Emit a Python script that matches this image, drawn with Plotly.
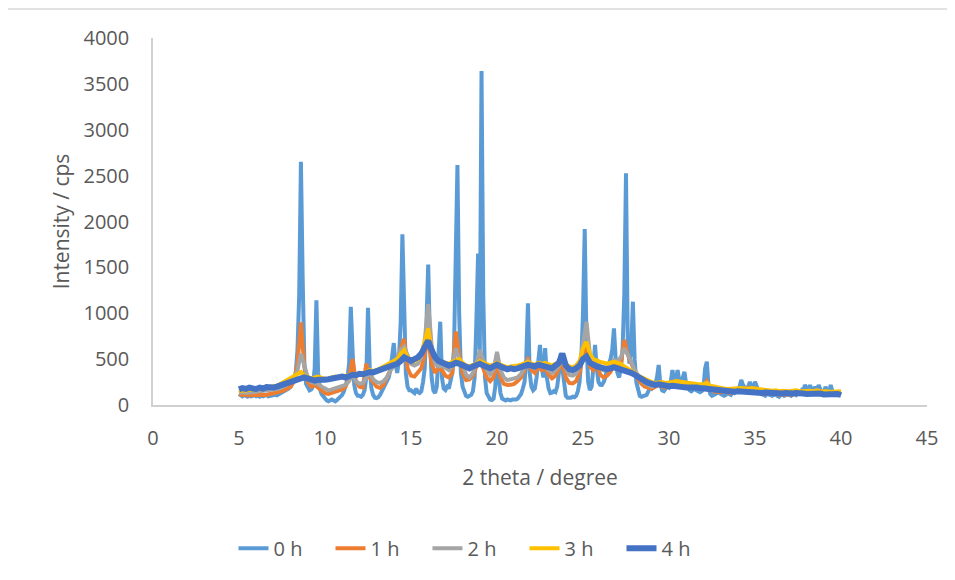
import numpy as np
import plotly.graph_objects as go

# ---- data ----
# 0 h sampled every 0.1 degree from 5.0 to 40.0
theta_fine = np.round(np.arange(5.0, 40.0001, 0.1), 1)
i_0h = [
    120,105,95,110,100,90,105,95,100,110,      # 5
    95,100,90,105,95,100,110,95,100,105,       # 6
    100,110,105,115,120,130,140,150,165,180,   # 7
    200,230,270,350,600,1200,2650,1400,450,230,# 8
    180,160,170,200,400,1140,350,180,120,90,   # 9
    70,50,40,45,60,50,40,55,70,90,             # 10
    110,150,200,280,450,1070,600,220,130,100,  # 11
    100,90,110,160,300,1060,400,180,110,80,    # 12
    75,85,110,150,200,230,260,300,380,560,     # 13
    675,450,350,500,900,1860,800,350,200,160,  # 14
    160,140,130,180,140,130,150,250,400,900,   # 15
    1530,700,300,160,130,200,500,908,300,180,  # 16
    163,200,180,250,350,600,1500,2616,1000,350,# 17
    200,140,100,90,95,110,150,300,900,1650,    # 18
    600,3640,1200,300,130,80,60,55,70,200,     # 19
    560,300,130,70,55,50,60,55,50,60,          # 20
    55,60,70,90,120,180,250,500,1108,350,      # 21
    200,160,180,300,450,654,400,300,620,300,   # 22
    180,130,135,150,140,200,350,560,400,200,   # 23
    100,80,76,80,90,85,100,150,250,500,        # 24
    1000,1918,700,250,163,200,400,654,400,250, # 25
    220,218,250,300,400,450,500,600,836,500,   # 26
    350,300,400,600,1200,2525,700,450,600,1126,# 27
    500,250,150,100,90,95,100,110,150,200,     # 28
    180,200,230,300,436,220,160,150,180,200,   # 29
    190,250,381,250,280,380,260,230,300,360,   # 30
    220,180,160,150,170,180,160,150,140,150,   # 31
    180,400,472,200,120,100,110,120,130,140,   # 32
    120,110,100,110,130,120,110,140,130,150,   # 33
    160,200,272,220,180,160,200,250,200,170,   # 34
    254,200,150,130,120,110,100,120,110,100,   # 35
    100,110,120,100,90,110,120,100,110,120,    # 36
    110,100,120,130,110,120,140,160,130,218,   # 37
    180,150,218,160,140,200,150,218,170,140,   # 38
    130,200,140,120,218,150,130,120,110,120,   # 39
    110,                                       # 40
]

# 1 h - 4 h sampled every 0.2 degree from 5.0 to 40.0
theta_coarse = np.round(np.arange(5.0, 40.0001, 0.2), 1)
i_1h = [
    120,110,115,105,110, 110,105,115,110,120, 125,130,145,160,180,
    200,260,450,900,420, 250,200,220,190,150, 130,120,130,140,150,
    170,200,300,500,250, 200,190,450,300,250, 200,185,220,300,380,
    450,500,600,720,400, 320,310,350,400,550, 750,450,350,400,380,
    320,300,350,800,550, 350,272,280,320,420, 520,400,300,260,300,
    450,300,230,218,220, 230,260,300,380,520, 380,350,420,380,400,
    330,290,320,400,450, 300,240,236,260,350, 550,650,420,380,450,
    330,300,320,360,450, 400,450,709,550,450, 350,280,230,200,190,
    180,200,220,200,190, 200,230,260,250,240, 230,210,200,190,200,
    210,260,180,150,140, 140,150,140,130,150, 160,180,170,190,160,
    180,160,130,120,130, 120,130,110,120,110, 120,110,130,120,140,
    130,140,120,130,140, 120,130,110,120,130, 120,
]
i_2h = [
    130,140,130,135,140, 140,150,145,155,160, 165,175,185,200,220,
    240,280,380,560,420, 300,250,240,230,200, 180,160,170,180,190,
    200,220,260,330,260, 230,240,300,350,280, 250,240,260,300,380,
    420,500,600,636,550, 450,430,450,520,700, 1100,650,450,420,430,
    400,380,420,620,500, 450,330,300,350,450, 600,480,380,330,380,
    580,380,300,272,280, 290,300,340,400,480, 420,400,450,420,430,
    380,350,380,430,500, 400,330,320,340,420, 700,908,550,450,500,
    400,380,400,450,490, 480,520,620,550,480, 380,320,270,240,220,
    200,210,230,210,200, 210,240,260,250,240, 230,220,210,200,210,
    220,240,190,170,160, 150,160,150,145,160, 170,180,175,180,170,
    175,160,140,130,135, 130,135,125,130,125, 130,125,135,130,140,
    135,140,130,135,140, 130,135,125,130,135, 130,
]
i_3h = [
    150,160,155,170,165, 170,175,180,185,195, 200,210,230,250,270,
    290,310,330,360,320, 300,290,300,310,295, 290,280,300,310,300,
    310,320,330,340,320, 330,340,360,380,370, 380,400,420,440,470,
    480,500,560,600,520, 500,480,500,560,700, 836,600,520,480,470,
    460,450,470,480,500, 460,430,420,430,450, 480,460,440,430,440,
    460,440,420,410,420, 420,430,440,450,470, 450,440,460,450,460,
    440,430,450,470,480, 450,420,410,430,480, 620,690,560,500,480,
    470,460,450,460,470, 460,450,420,400,380, 350,320,300,280,260,
    250,240,245,250,240, 240,250,260,255,250, 240,235,230,220,225,
    230,240,210,200,190, 185,180,175,180,185, 180,185,180,175,185,
    180,170,160,155,160, 155,160,150,155,150, 150,155,160,150,155,
    160,155,150,160,150, 155,150,145,150,155, 150,
]
i_4h = [
    170,185,175,190,180, 175,190,180,195,185, 190,200,215,225,240,
    250,265,275,290,300, 285,270,265,275,270, 275,280,290,285,300,
    310,300,320,330,325, 340,335,350,360,355, 370,380,395,410,420,
    430,450,480,520,500, 480,500,520,560,620, 700,600,520,480,460,
    450,430,440,460,450, 430,410,400,420,430, 450,430,410,400,420,
    440,420,400,390,400, 390,400,410,420,440, 430,420,440,430,420,
    410,400,430,460,560, 430,390,380,400,430, 500,527,460,430,420,
    410,400,390,400,410, 400,390,381,370,350, 330,300,280,260,240,
    230,218,225,215,210, 205,210,200,205,195, 190,195,185,190,185,
    180,190,175,170,165, 160,155,150,155,145, 150,145,140,150,145,
    140,135,130,135,130, 125,130,120,125,130, 120,125,130,120,125,
    120,125,115,120,125, 115,120,110,115,120, 110,
]

series_names = ["0 h", "1 h", "2 h", "3 h", "4 h"]
series_x = [theta_fine, theta_coarse, theta_coarse, theta_coarse, theta_coarse]
series_y = [i_0h, i_1h, i_2h, i_3h, i_4h]
colors = ["#5B9BD5", "#ED7D31", "#A5A5A5", "#FFC000", "#4472C4"]
x_ticks = [0, 5, 10, 15, 20, 25, 30, 35, 40, 45]
y_ticks = [0, 500, 1000, 1500, 2000, 2500, 3000, 3500, 4000]

FONT = "Open Sans"
GRAY = "#595959"

fig = go.Figure()
for name, xs, ys, c in zip(series_names, series_x, series_y, colors):
    fig.add_trace(go.Scatter(
        x=xs, y=ys, name=name, mode="lines",
        line=dict(color=c, width=4 if name != "4 h" else 6),
    ))

fig.update_layout(
    width=939, height=564,
    margin=dict(l=145, r=20, t=30, b=167, autoexpand=False),
    paper_bgcolor="white", plot_bgcolor="white",
    font=dict(family=FONT, color=GRAY, size=20),
    showlegend=True,
    legend=dict(orientation="h", x=0.104, xanchor="left", y=-0.39, yanchor="middle",
                font=dict(size=20, color=GRAY, family=FONT), entrywidth=52,
                entrywidthmode="pixels", tracegroupgap=0),
    xaxis=dict(range=[0, 45], tickvals=x_ticks, showgrid=False, zeroline=False,
               showline=True, linecolor="#D0D0D0", linewidth=1.5,
               ticks="", ticklabelstandoff=14,
               tickfont=dict(size=20, color=GRAY, family=FONT),
               title=dict(text="2 theta / degree", font=dict(size=21, color=GRAY, family=FONT),
                          standoff=21)),
    yaxis=dict(range=[0, 4000], tickvals=y_ticks, showgrid=False, zeroline=False,
               showline=True, linecolor="#D0D0D0", linewidth=1.5,
               ticks="", ticklabelstandoff=18,
               tickfont=dict(size=20, color=GRAY, family=FONT),
               title=dict(text="Intensity / cps", font=dict(size=21, color=GRAY, family=FONT),
                          standoff=8)),
    shapes=[dict(type="rect", xref="paper", yref="paper",
                 x0=-0.1886, x1=1.2, y0=-0.6, y1=1.079,
                 line=dict(color="#D9D9D9", width=1.5), layer="below")],
)

fig.write_html("out.html")
